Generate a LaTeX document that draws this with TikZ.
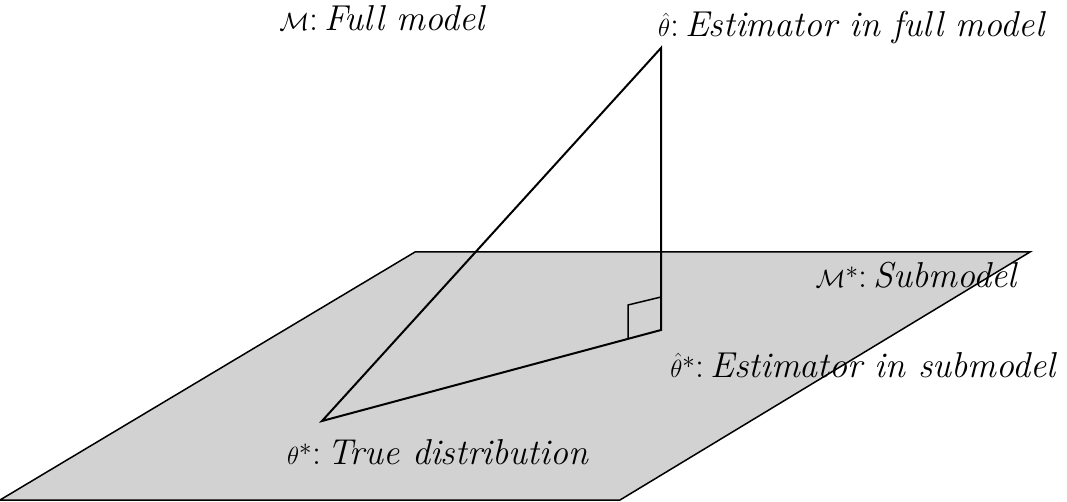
\documentclass[tikz,border=0pt]{standalone}
\begin{document}
\begin{tikzpicture}[x=1pt,y=-1pt,
  lab/.style={font=\fontsize{36}{42}\selectfont,inner sep=0pt},
  edge/.style={line width=2pt,black}]
\useasboundingbox (0,0) rectangle (1067,502);
\fill[gray!35,draw=black,line width=1.5pt] (415,252) -- (1030,252) -- (620,500) -- (0,500) -- cycle;
\coordinate (ts) at (322,421);
\coordinate (th) at (661,48);
\coordinate (ths) at (661,330);
\draw[edge] (ts) -- (th) -- (ths) -- cycle;
\draw[line width=1.5pt] (628,338) -- (628,305) -- (661,297);
\node[lab] (m) at (383,18) {$\mathcal{M}$:\,\textit{Full model}};
\node[lab] (a) at (852,28) {$\hat\theta$:\,\textit{Estimator in full model}};
\node[lab] (b) at (917,275) {$\mathcal{M}^*$:\,\textit{Submodel}};
\node[lab] (c) at (864,365) {$\hat\theta^*$:\,\textit{Estimator in submodel}};
\node[lab] (d) at (438,452) {$\theta^*$:\,\textit{True distribution}};
\end{tikzpicture}
\end{document}
